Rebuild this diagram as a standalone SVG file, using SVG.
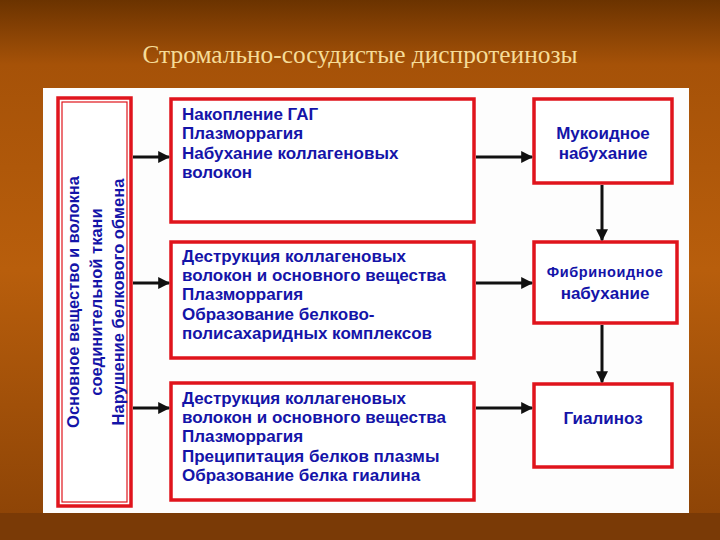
<svg xmlns="http://www.w3.org/2000/svg" width="720" height="540" viewBox="0 0 720 540">
<defs>
<linearGradient id="bg" x1="0" y1="0" x2="0" y2="1">
<stop offset="0" stop-color="#6b3300"/>
<stop offset="0.12" stop-color="#a65208"/>
<stop offset="0.5" stop-color="#b85e0c"/>
<stop offset="1" stop-color="#8a4206"/>
</linearGradient>
<marker id="ah" viewBox="0 0 10 10" refX="9" refY="5" markerWidth="4" markerHeight="4" markerUnits="strokeWidth" orient="auto">
<path d="M0,0 L10,5 L0,10 z" fill="#111"/>
</marker>
<style>
.box{fill:#fff;stroke:#e0141c;stroke-width:3.5}
.inner{fill:none;stroke:#e0141c;stroke-width:1.2}
.t{font-family:"Liberation Sans",Arial,sans-serif;font-weight:bold;font-size:17px;fill:#1414a8}
.c{text-anchor:middle}
.con{stroke:#111;stroke-width:3;fill:none;marker-end:url(#ah)}
.title{font-family:"Liberation Serif","Times New Roman",serif;font-size:25px;fill:#f6dc98;text-anchor:middle}
</style>
</defs>
<rect x="0" y="0" width="720" height="540" fill="url(#bg)"/>
<rect x="0" y="513" width="720" height="27" fill="#7a3a06"/>
<text class="title" x="360" y="63" textLength="435" lengthAdjust="spacingAndGlyphs">Стромально-сосудистые диспротеинозы</text>
<rect x="43" y="88" width="646" height="425" fill="#fdfdfd"/>

<g id="left">
<rect class="box" x="58" y="98" width="73" height="408"/>
<rect class="inner" x="62" y="102" width="65" height="400"/>
<g transform="translate(0,302) rotate(-90)">
<text class="t c" x="0" y="79" style="font-size:16.5px">Основное вещество и волокна</text>
<text class="t c" x="0" y="102" style="font-size:16.5px">соединительной ткани</text>
<text class="t c" x="0" y="124" style="font-size:16.5px">Нарушение белкового обмена</text>
</g>
</g>

<g id="m1">
<rect class="box" x="171" y="99" width="303" height="123"/>
<text class="t" x="182" y="120">Накопление ГАГ</text>
<text class="t" x="182" y="139">Плазморрагия</text>
<text class="t" x="182" y="159">Набухание коллагеновых</text>
<text class="t" x="182" y="178">волокон</text>
</g>

<g id="m2">
<rect class="box" x="171" y="242" width="303" height="116"/>
<text class="t" x="182" y="262">Деструкция коллагеновых</text>
<text class="t" x="182" y="281">волокон и основного вещества</text>
<text class="t" x="182" y="300">Плазморрагия</text>
<text class="t" x="182" y="320">Образование белково-</text>
<text class="t" x="182" y="339">полисахаридных комплексов</text>
</g>

<g id="m3">
<rect class="box" x="171" y="383" width="303" height="117"/>
<text class="t" x="182" y="404">Деструкция коллагеновых</text>
<text class="t" x="182" y="423">волокон и основного вещества</text>
<text class="t" x="182" y="442">Плазморрагия</text>
<text class="t" x="182" y="462">Преципитация белков плазмы</text>
<text class="t" x="182" y="481">Образование белка гиалина</text>
</g>

<g id="r1">
<rect class="box" x="534" y="99" width="138" height="84"/>
<text class="t c" x="603" y="139">Мукоидное</text>
<text class="t c" x="603" y="159">набухание</text>
</g>

<g id="r2">
<rect class="box" x="534" y="242" width="143" height="81"/>
<text class="t c" x="605" y="277" style="font-size:14.5px;letter-spacing:0.6px">Фибриноидное</text>
<text class="t c" x="605" y="299">набухание</text>
</g>

<g id="r3">
<rect class="box" x="534" y="384" width="138" height="83"/>
<text class="t c" x="603" y="424">Гиалиноз</text>
</g>

<g id="connectors">
<line class="con" x1="133" y1="157" x2="169" y2="157"/>
<line class="con" x1="133" y1="283" x2="169" y2="283"/>
<line class="con" x1="133" y1="408" x2="169" y2="408"/>
<line class="con" x1="476" y1="157" x2="532" y2="157"/>
<line class="con" x1="476" y1="283" x2="532" y2="283"/>
<line class="con" x1="476" y1="408" x2="532" y2="408"/>
<line class="con" x1="602" y1="185" x2="602" y2="240"/>
<line class="con" x1="602" y1="325" x2="602" y2="382"/>
</g>
</svg>
